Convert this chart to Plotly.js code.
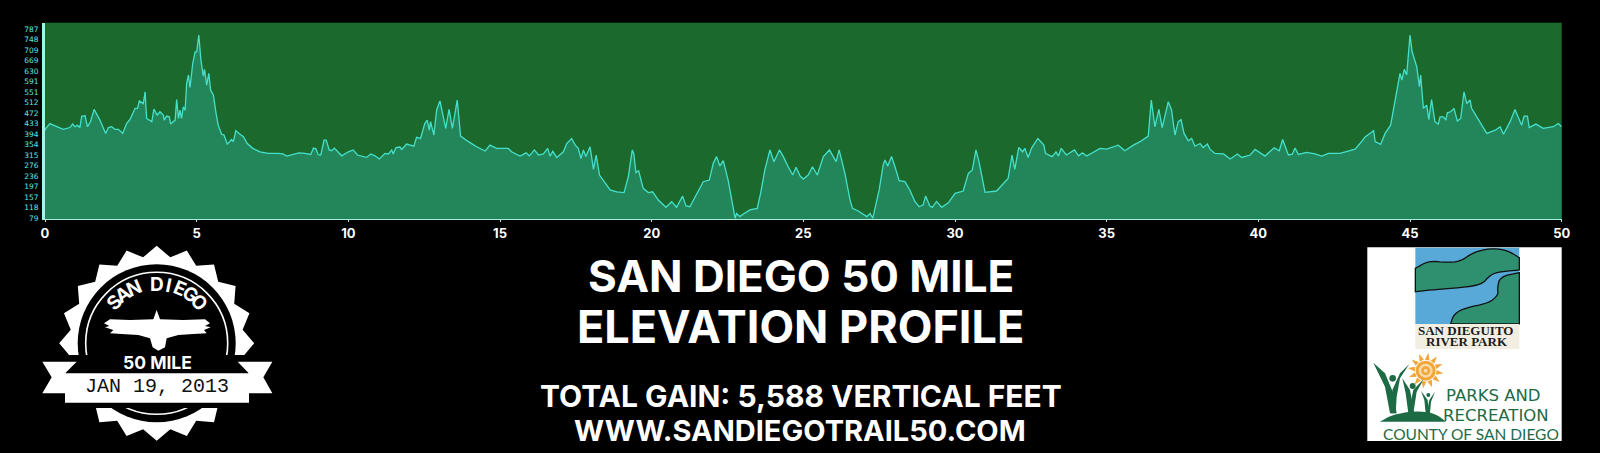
<!DOCTYPE html>
<html>
<head>
<meta charset="utf-8">
<script src="https://cdn.plot.ly/plotly-3.0.1.min.js"></script>
<style>html,body{margin:0;padding:0;background:#000;overflow:hidden}#chart{width:1600px;height:453px}</style>
</head>
<body>
<div id="chart"></div>
<script>
const miles = [0,0.03,0.16,0.33,0.6,0.82,0.91,0.99,1.07,1.15,1.21,1.27,1.32,1.4,1.5,1.62,1.73,1.81,2,2.09,2.2,2.31,2.42,2.56,2.69,2.8,2.97,3.05,3.11,3.24,3.3,3.35,3.52,3.59,3.7,3.79,3.9,3.93,4.01,4.1,4.14,4.29,4.34,4.4,4.45,4.5,4.56,4.62,4.67,4.73,4.78,4.87,4.95,5,5.07,5.14,5.22,5.26,5.33,5.4,5.46,5.55,5.64,5.71,5.82,5.9,6.01,6.15,6.21,6.29,6.43,6.54,6.67,6.85,7.09,7.36,7.69,7.84,7.97,8.19,8.37,8.57,8.76,8.85,8.93,9.01,9.09,9.2,9.27,9.37,9.45,9.54,9.78,10,10.16,10.3,10.6,10.74,10.88,11.02,11.21,11.32,11.43,11.48,11.57,11.7,11.76,11.92,12.16,12.25,12.38,12.52,12.6,12.67,12.71,12.82,12.91,13.02,13.13,13.21,13.32,13.43,13.59,13.7,13.96,14.23,14.51,14.67,14.89,15.27,15.38,15.66,15.86,15.97,16.13,16.27,16.43,16.57,16.65,16.74,16.87,17.09,17.2,17.36,17.48,17.58,17.67,17.75,17.83,17.97,18.08,18.17,18.28,18.43,18.63,18.85,19.09,19.23,19.31,19.36,19.41,19.48,19.57,19.72,19.89,20.03,20.22,20.47,20.66,20.82,21.02,21.13,21.26,21.37,21.54,21.7,21.9,22.03,22.14,22.25,22.36,22.52,22.75,22.8,22.91,23.02,23.24,23.48,23.59,23.73,23.9,24.03,24.21,24.34,24.5,24.65,24.76,24.89,25,25.16,25.3,25.46,25.66,25.86,26.08,26.18,26.37,26.54,26.62,26.81,27.09,27.2,27.29,27.5,27.63,27.69,27.78,27.91,28.02,28.16,28.35,28.51,28.68,28.82,28.95,29.03,29.17,29.25,29.39,29.56,29.78,30,30.27,30.44,30.57,30.69,30.79,30.99,31.37,31.59,31.75,31.88,31.97,32.1,32.23,32.3,32.41,32.52,32.73,32.93,32.98,33.2,33.33,33.41,33.5,33.67,33.94,34.07,34.2,34.34,34.67,34.78,35,35.38,35.6,35.88,36.1,36.37,36.47,36.59,36.72,36.83,37.03,37.14,37.25,37.36,37.45,37.55,37.69,37.8,37.91,38.08,38.18,38.32,38.41,38.57,38.85,39.07,39.31,39.45,39.73,39.89,40.22,40.52,40.69,40.8,40.99,41.12,41.21,41.32,41.59,41.87,42.09,42.31,42.69,43.19,43.35,43.52,43.8,43.85,44.03,44.18,44.36,44.45,44.56,44.67,44.73,44.81,44.89,45,45.07,45.22,45.31,45.35,45.44,45.55,45.62,45.71,45.82,45.93,45.99,46.1,46.18,46.23,46.34,46.45,46.56,46.67,46.78,46.87,46.98,47.03,47.2,47.53,47.81,47.97,48.08,48.3,48.46,48.68,48.76,48.87,48.93,49.15,49.39,49.72,49.89,50];
const elevation = [408,415,433,424,411,418,431,421,426,418,461,461,463,421,440,486,465,446,396,418,421,411,411,396,433,448,490,490,518,508,552,452,440,487,465,477,465,446,461,458,431,446,523,452,483,452,496,483,583,615,568,658,702,702,765,671,611,636,577,621,558,540,471,427,393,390,356,373,365,406,393,384,358,340,327,321,321,319,311,316,323,321,317,341,338,316,315,371,371,334,331,341,312,327,334,315,306,319,312,300,321,319,334,319,343,345,336,356,348,381,377,433,446,408,440,390,483,518,458,415,486,415,521,386,365,346,330,352,340,340,327,311,323,312,334,315,319,340,311,329,306,327,358,377,352,340,302,334,309,346,261,315,240,215,184,177,174,234,290,334,320,249,256,190,174,177,146,119,140,119,161,124,121,146,184,215,221,284,309,274,294,221,78,96,84,94,109,115,171,259,334,290,334,309,271,240,269,237,225,240,271,240,309,334,290,334,246,146,115,105,84,96,78,184,277,296,274,309,271,219,215,184,140,121,128,161,124,119,141,119,136,171,180,246,259,334,290,175,180,209,227,315,261,343,327,340,306,340,377,352,321,309,327,311,340,315,334,312,323,311,334,340,337,352,331,352,365,386,521,421,486,418,515,483,390,440,448,396,368,377,348,358,343,356,336,321,319,300,319,306,315,336,311,342,331,373,315,318,341,317,325,319,311,321,321,337,358,383,406,365,355,396,427,483,558,621,596,636,615,765,702,646,571,615,490,502,448,523,440,431,458,458,446,473,477,490,442,452,552,508,521,490,458,396,408,421,393,440,486,427,461,461,418,431,415,421,433,421];
const yTickValues = [79,118,157,197,236,276,315,354,394,433,472,512,551,591,630,669,709,748,787];
const xTickValues = [0,5,10,15,20,25,30,35,40,45,50];
const titleLines = ['SAN DIEGO 50 MILE','ELEVATION PROFILE'];
const subtitleLines = ['TOTAL GAIN: 5,588 VERTICAL FEET','WWW.SANDIEGOTRAIL50.COM'];

const W = 1600, H = 453;
const px = x => x / W, py = y => 1 - y / H;
const poly = (pts, fill, line, lw) => ({type:'path', xref:'paper', yref:'paper', layer:'above',
  path:'M' + pts.map(p => px(p[0]) + ',' + py(p[1])).join('L') + 'Z',
  fillcolor:fill, line:{color:line || fill, width:lw === undefined ? 0 : lw}});
const rect = (x0,y0,x1,y1,fill) => ({type:'rect', xref:'paper', yref:'paper', layer:'above',
  x0:px(x0), x1:px(x1), y0:py(y1), y1:py(y0), fillcolor:fill, line:{width:0}});
const circle = (cx,cy,r,fill,line,lw) => ({type:'circle', xref:'paper', yref:'paper', layer:'above',
  x0:px(cx-r), x1:px(cx+r), y0:py(cy+r), y1:py(cy-r), fillcolor:fill, line:{color:line||fill, width:lw||0}});
const label = (text,x,y,size,color,family,extra) => Object.assign({text, x:px(x), y:py(y), xref:'paper', yref:'paper',
  showarrow:false, xanchor:'center', yanchor:'middle', font:{size, color, family}}, extra||{});
// corner-rounding for the hand-drawn logo outlines
const smooth = pts => {
  let cur = pts;
  for (let k = 0; k < 2; k++) {
    const next = [cur[0]];
    for (let i = 0; i < cur.length-1; i++) {
      const a = cur[i], b = cur[i+1];
      next.push([a[0]*.75+b[0]*.25,a[1]*.75+b[1]*.25],[a[0]*.25+b[0]*.75,a[1]*.25+b[1]*.75]);
    }
    next.push(cur[cur.length-1]);
    cur = next;
  }
  return cur;
};

// badge
const cx = 156.7, cy = 343.3;
const star = [];
for (let i = 0; i < 40; i++) {
  const a = i * Math.PI / 20, r = i % 2 ? 87 : 97.5;
  star.push([cx + r*Math.sin(a), cy - r*Math.cos(a)]);
}
const E = p => [50 + p[0]/3, 240 + p[1]/3];
const R = p => [35 + p[0]/3, 350 + p[1]/3];
const eagle = [[320,210],[330,238],[400,240],[465,238],[480,250],[465,258],[482,262],[462,270],[470,280],[430,282],[385,285],[350,295],[345,322],[325,332],[308,322],[300,295],[265,285],[215,282],[180,280],[190,270],[165,262],[178,258],[162,250],[180,238],[240,240],[310,238]].map(E);
const shapes = [
  poly(star,'#fff'),
  circle(cx,cy,79,'#000'),
  circle(cx,cy,71,'#000','#fff',1.6),
  rect(40,355,275,408,'#000'),
  poly(eagle,'#fff'),
  poly([[22,35],[125,35],[92,68],[92,130],[22,130],[50,82]].map(R),'#fff'),
  poly([[712,35],[608,35],[640,68],[640,130],[712,130],[685,82]].map(R),'#fff'),
  rect(...R([90,70]),...R([642,158]),'#fff')
];

// river park logo
const K = p => [1410 + p[0]/3, 245 + p[1]/3];
const green = '#2f9070', dark = '#1d6b45';
shapes.push(rect(1367.3,247.3,1561.7,441,'#fff'));
shapes.push(rect(...K([16,8]),...K([328,237]),'#58a9d8'));
const hillTop = smooth([[16,70],[55,48],[110,52],[150,50],[190,22],[240,10],[290,15],[328,38]]);
const hillLow = smooth([[328,75],[270,80],[240,90],[215,120],[130,130],[60,135],[16,140]]);
shapes.push(poly(hillTop.concat(hillLow).map(K),green,'#111',1.3));
shapes.push(poly(smooth([[328,83],[270,95],[262,130],[265,150],[235,175],[160,190],[130,210],[122,237]]).concat([[328,237]]).map(K),green,'#111',1.3));
shapes.push(rect(...K([16,237]),...K([328,312]),'#f2eee2'));

// parks and recreation logo
const G = p => [1365 + p[0]/3, 350 + p[1]/3];
shapes.push(poly(smooth([[45,215],[80,195],[150,182],[210,190],[243,215]]).map(G),dark));
[[[25,38],[60,70],[85,130],[95,190],[75,190],[60,110]],
 [[133,42],[105,85],[95,140],[92,190],[78,190],[82,120],[105,70]],
 [[112,85],[135,120],[148,190],[130,190],[122,130]],
 [[178,85],[155,125],[145,190],[130,190],[145,120]],
 [[168,122],[188,150],[192,190],[182,190],[178,150]],
 [[210,125],[198,155],[195,190],[185,190],[193,150]]
].forEach(b => shapes.push(poly(b.map(G),dark)));
shapes.push(circle(...G([83,85]),3.3,dark), circle(...G([143,108]),3,dark), circle(...G([190,135]),2,dark));
const sun = G([182,62]);
for (let i = 0; i < 12; i++) {
  const a = i*Math.PI/6 + 0.15, d = 0.22;
  shapes.push(poly([[sun[0]+11*Math.cos(a-d),sun[1]+11*Math.sin(a-d)],[sun[0]+18*Math.cos(a),sun[1]+18*Math.sin(a)],[sun[0]+11*Math.cos(a+d),sun[1]+11*Math.sin(a+d)]],'#f2a63a'));
}
shapes.push(circle(sun[0],sun[1],10,'#f2a63a'), circle(sun[0],sun[1],7,'#f9dba8'), circle(sun[0],sun[1],4.5,'#f2a63a'), circle(sun[0],sun[1],2,'#f9dba8'));

const sans = 'Inter, sans-serif';
const annotations = [
  label('<b>'+titleLines[0]+'</b>',800.5,276,44,'#fff',sans),
  label('<b>'+titleLines[1]+'</b>',800,326,45,'#fff',sans),
  label('<b>'+subtitleLines[0]+'</b>',801,396,30,'#fff',sans),
  label('<b>'+subtitleLines[1]+'</b>',800,430,29,'#fff',sans),
  label('<b>50 MILE</b>',157,362.7,17.5,'#fff',sans),
  label('JAN 19, 2013',157,386.7,20,'#111','Liberation Mono, monospace'),
  label('<b>SAN DIEGUITO</b>',...K([165,255]),13,'#1a1a1a','Liberation Serif, serif'),
  label('<b>RIVER PARK</b>',...K([170,290]),13,'#1a1a1a','Liberation Serif, serif'),
  label('PARKS AND',1493,395.5,16.5,dark,'DejaVu Sans, sans-serif'),
  label('RECREATION',1496,415.5,16.5,dark,'DejaVu Sans, sans-serif'),
  label('COUNTY OF SAN DIEGO',1471,433.5,15.5,dark,'Lato, sans-serif')
];
// curved SAN DIEGO lettering
'SAN DIEGO'.split('').forEach((ch,i) => {
  if (ch === ' ') return;
  const deg = -46 + i*11.5, a = deg*Math.PI/180, r = 59;
  annotations.push(label('<b>'+ch+'</b>', cx + r*Math.sin(a), cy - r*Math.cos(a), 19, '#fff', sans, {textangle:deg}));
});

const trace = {x:miles, y:elevation, type:'scatter', mode:'lines', fill:'tozeroy',
  fillcolor:'#23865a', line:{color:'#45e0cc', width:1.3}, hoverinfo:'skip'};

const layout = {
  width:W, height:H, margin:{l:0,r:0,t:0,b:0}, paper_bgcolor:'#000', plot_bgcolor:'#1b692c', showlegend:false,
  xaxis:{domain:[45/W,1561.7/W], range:[0,50], tickvals:xTickValues, ticktext:xTickValues.map(v => '<b>'+v+'</b>'),
    showgrid:false, zeroline:false, showline:true, linecolor:'#a5ecdc', linewidth:1, ticks:'outside', ticklen:2, tickcolor:'#a5ecdc',
    tickfont:{size:13,color:'#fff',family:'Inter, sans-serif'}},
  yaxis:{domain:[1-219.3/H,1-22.7/H], range:[74,811], tickvals:yTickValues, ticktext:yTickValues.map(String),
    showgrid:false, zeroline:false, showline:true, linecolor:'#a0f5ea', linewidth:3, ticks:'outside', ticklen:2, tickcolor:'rgba(0,0,0,0)',
    tickfont:{size:7.5,color:'#5ce8e2',family:'DejaVu Sans, sans-serif'}},
  shapes, annotations
};
Plotly.newPlot('chart',[trace],layout,{displayModeBar:false,staticPlot:true});
</script>
</body>
</html>
